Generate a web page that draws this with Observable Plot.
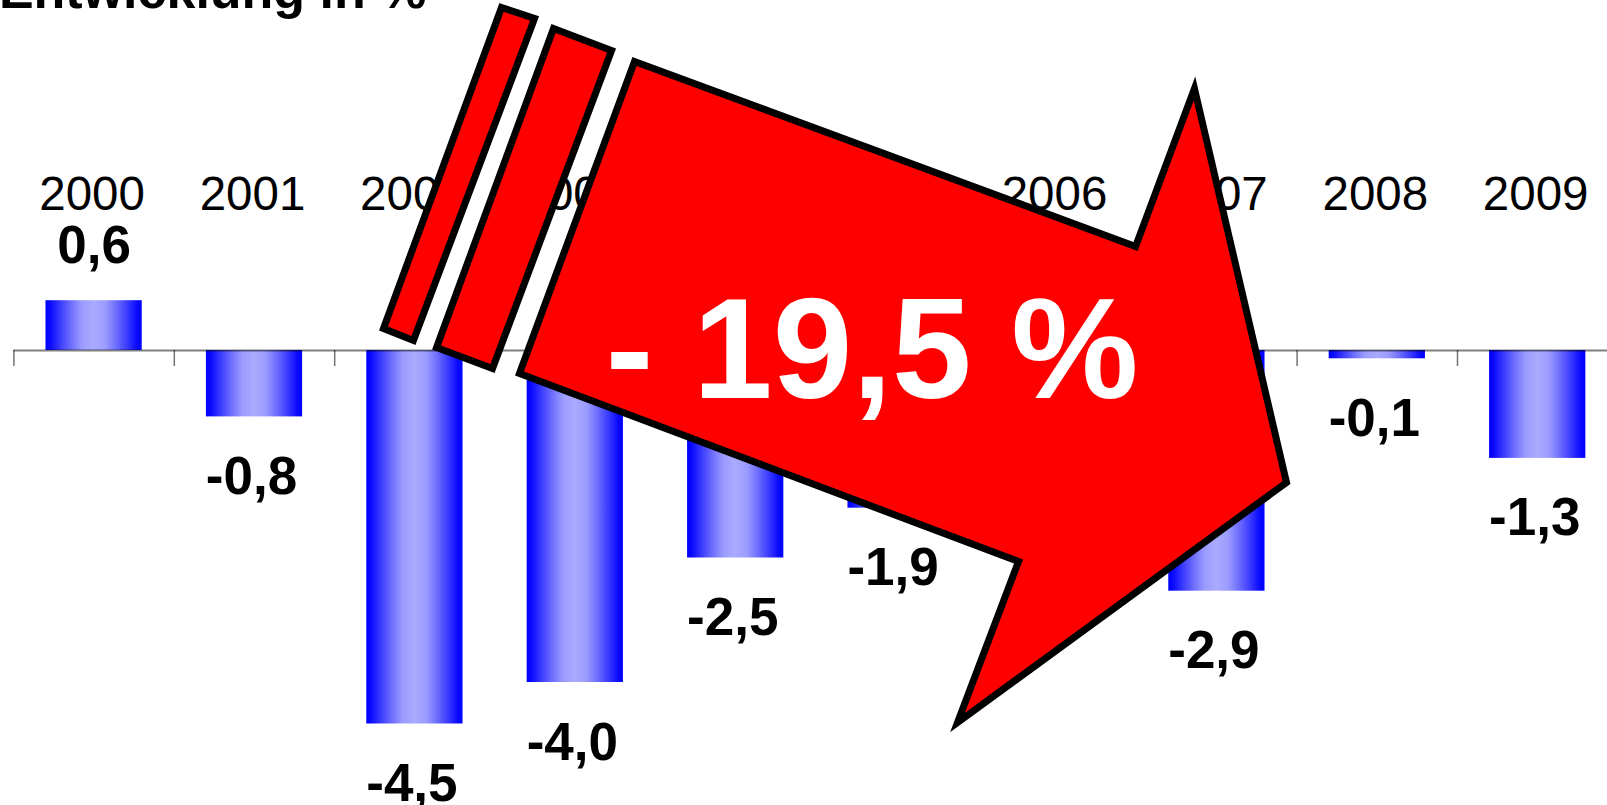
<!DOCTYPE html>
<html>
<head>
<meta charset="utf-8">
<script src="https://cdn.jsdelivr.net/npm/d3@7"></script>
<script src="https://cdn.jsdelivr.net/npm/@observablehq/plot@0.6"></script>
<style>
html, body { margin: 0; padding: 0; background: #fff; overflow: hidden; width: 1607px; height: 805px; }
#chart { position: relative; width: 1607px; height: 805px; overflow: hidden; }
#chart svg { max-width: none !important; }
</style>
</head>
<body>
<div id="chart"></div>
<script>
// ---- data ----
const years = [2000, 2001, 2002, 2003, 2004, 2005, 2006, 2007, 2008, 2009];
const values = [0.6, -0.8, -4.5, -4.0, -2.5, -1.9, -2.1, -2.9, -0.1, -1.3];
const titleText = "Entwicklung in %";
const totalLabel = "- 19,5 %";

// annotation arrow, vertices in (year, value) units
const arrowBody = [[2003.369, 3.482], [2006.493, 1.253], [2006.860, 3.157], [2007.434, -1.590], [2005.383, -4.482], [2005.763, -2.542], [2002.652, -0.277]];
const arrowStrip1 = [[2002.540, 4.133], [2002.746, 4.000], [2001.991, 0.120], [2001.804, 0.265]];
const arrowStrip2 = [[2002.864, 3.880], [2003.226, 3.614], [2002.484, -0.217], [2002.135, 0.036]];
const totalLabelAt = [2004.85, -0.57];

// ---- build ----
const data = years.map((year, i) => ({year, value: values[i]}));
const boundaries = years.map(y => y - 0.5).concat([years[years.length - 1] + 0.5]);
const fmt = v => v.toFixed(1).replace(".", ",");
const font = '"Liberation Sans", Arial, Helvetica, sans-serif';

const W = 1620, H = 805, zeroY = 350, pxPerUnit = 83;

const arrowStyle = {x: d => d[0], y: d => d[1], curve: "linear-closed", fill: "#ff0000", stroke: "#000", strokeWidth: 7, strokeLinejoin: "miter", strokeMiterlimit: 10};

const chart = Plot.plot({
  width: W,
  height: H,
  marginLeft: 13.4,
  marginRight: W - 1617.4,
  marginTop: 0,
  marginBottom: 0,
  x: {type: "linear", domain: [1999.5, 2009.5], axis: null},
  y: {domain: [-(H - zeroY) / pxPerUnit, zeroY / pxPerUnit], axis: null},
  style: {fontFamily: font, background: "white", color: "black", overflow: "hidden", maxWidth: "none"},
  marks: [
    Plot.rect(data, {x1: d => d.year - 0.3, x2: d => d.year + 0.3, y1: 0, y2: "value", fill: "url(#barGrad)"}),
    Plot.ruleY([0], {x1: 1999.5, x2: 2009.5, stroke: "#000", strokeOpacity: 0.5, strokeWidth: 2}),
    Plot.ruleX(boundaries, {x: d => d, y1: 0, y2: 0, insetBottom: -16, stroke: "#000", strokeOpacity: 0.55, strokeWidth: 1.5}),
    Plot.text(data, {x: "year", text: d => String(d.year), frameAnchor: "top", dx: -2, dy: 209, lineAnchor: "bottom", fontSize: 47.5, fill: "#000"}),
    Plot.text(data.filter(d => d.value >= 0), {x: "year", y: "value", text: d => fmt(d.value), lineAnchor: "bottom", dy: -38, fontSize: 53, fontWeight: "bold", fill: "#000"}),
    Plot.text(data.filter(d => d.value < 0), {x: "year", y: "value", text: d => fmt(d.value), lineAnchor: "bottom", dx: -3, dy: 77, fontSize: 53, fontWeight: "bold", fill: "#000"}),
    Plot.text([titleText], {frameAnchor: "top-left", text: d => d, dx: -15, dy: 7, lineAnchor: "bottom", textAnchor: "start", fontSize: 52, fontWeight: "bold", fill: "#000"}),
    Plot.line(arrowStrip1, arrowStyle),
    Plot.line(arrowStrip2, arrowStyle),
    Plot.line(arrowBody, arrowStyle),
    Plot.text([totalLabel], {x: totalLabelAt[0], y: totalLabelAt[1], text: d => d, lineAnchor: "bottom", fontSize: 143, fontWeight: "bold", fill: "#fff"})
  ]
});

// horizontal gradient used by the bars
const defs = d3.select(chart).insert("defs", ":first-child");
const grad = defs.append("linearGradient").attr("id", "barGrad").attr("x1", 0).attr("x2", 1).attr("y1", 0).attr("y2", 0);
[[0, "#0000ff"], [0.05, "#0a0aff"], [0.15, "#3a3aff"], [0.27, "#7070ff"], [0.38, "#9c9cff"], [0.5, "#aaaaff"], [0.62, "#9c9cff"], [0.73, "#7070ff"], [0.85, "#3a3aff"], [0.95, "#0a0aff"], [1, "#0000ff"]]
  .forEach(([o, c]) => grad.append("stop").attr("offset", o).attr("stop-color", c));

document.getElementById("chart").appendChild(chart);
</script>
</body>
</html>
